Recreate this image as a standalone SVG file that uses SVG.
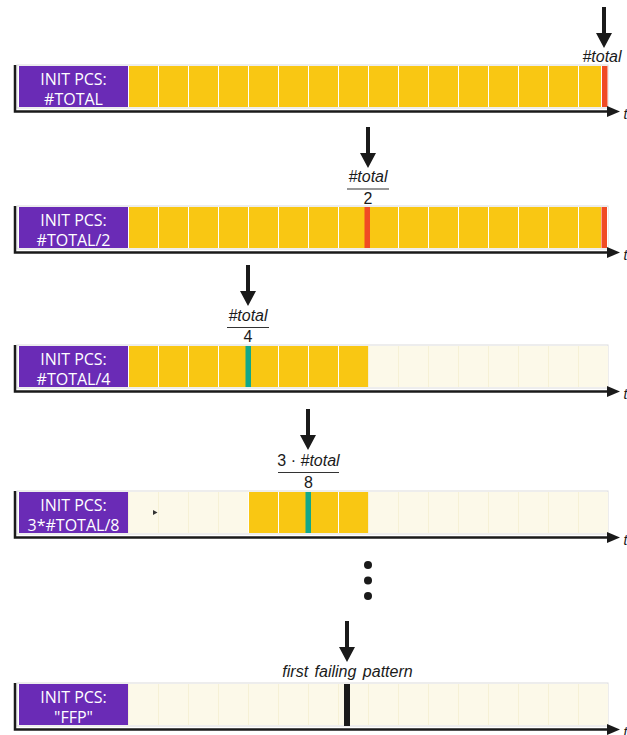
<svg xmlns="http://www.w3.org/2000/svg" width="627" height="735" viewBox="0 0 627 735">
<style>
.frame{fill:#fff;stroke:#dcdcdc;stroke-width:1}
.pcs{fill:#6a2bb6}
.pcst{font-family:"Open Sans","Noto Sans",sans-serif;font-size:16px;fill:#fff;text-anchor:middle}
.y{fill:#f9c713}
.c{fill:#fcf9e9}
.red{fill:#f04b24}
.grn{fill:#12a88a}
.blk{fill:#1a1a1a}
.ax{stroke:#1a1a1a;stroke-width:2.5;fill:none}
.axh{fill:#1a1a1a}
.lab{font-family:"Liberation Sans",Arial,sans-serif;font-size:16px;fill:#1a1a1a;text-anchor:middle}
.it{font-style:italic}
.frac{stroke:#333;stroke-width:1.2}
.arr{fill:#1a1a1a}
</style>
<defs>
<g id="cellsY">
<rect class="y" x="129" y="0" width="29" height="41"/><rect class="y" x="159" y="0" width="29" height="41"/><rect class="y" x="189" y="0" width="29" height="41"/><rect class="y" x="219" y="0" width="29" height="41"/><rect class="y" x="249" y="0" width="29" height="41"/><rect class="y" x="279" y="0" width="29" height="41"/><rect class="y" x="309" y="0" width="29" height="41"/><rect class="y" x="339" y="0" width="29" height="41"/><rect class="y" x="369" y="0" width="29" height="41"/><rect class="y" x="399" y="0" width="29" height="41"/><rect class="y" x="429" y="0" width="29" height="41"/><rect class="y" x="459" y="0" width="29" height="41"/><rect class="y" x="489" y="0" width="29" height="41"/><rect class="y" x="519" y="0" width="29" height="41"/><rect class="y" x="549" y="0" width="29" height="41"/><rect class="y" x="579" y="0" width="29" height="41"/>
</g>
<g id="cream">
<rect x="128" y="0" width="480" height="41" fill="#f6f1d6"/>
<rect class="c" x="129" y="0" width="29" height="41"/><rect class="c" x="159" y="0" width="29" height="41"/><rect class="c" x="189" y="0" width="29" height="41"/><rect class="c" x="219" y="0" width="29" height="41"/><rect class="c" x="249" y="0" width="29" height="41"/><rect class="c" x="279" y="0" width="29" height="41"/><rect class="c" x="309" y="0" width="29" height="41"/><rect class="c" x="339" y="0" width="29" height="41"/><rect class="c" x="369" y="0" width="29" height="41"/><rect class="c" x="399" y="0" width="29" height="41"/><rect class="c" x="429" y="0" width="29" height="41"/><rect class="c" x="459" y="0" width="29" height="41"/><rect class="c" x="489" y="0" width="29" height="41"/><rect class="c" x="519" y="0" width="29" height="41"/><rect class="c" x="549" y="0" width="29" height="41"/><rect class="c" x="579" y="0" width="29" height="41"/>
</g>
<g id="axis">
<path class="ax" d="M15 0 V46.5 H610"/>
<polygon class="axh" points="607,41 620,46.5 607,52"/>
<text x="623.5" y="54" font-family="Liberation Sans,Arial,sans-serif" font-style="italic" font-size="14" fill="#1a1a1a">t</text>
</g>
<path id="arrow" d="M-2 0 H2 V26 H8 L0 41 L-8 26 H-2 Z"/>
</defs>

<g id="row1" transform="translate(0,65)">
<rect class="frame" x="17" y="0" width="591" height="43"/>
<use href="#cellsY" y="1"/>
<rect x="601" y="1" width="7" height="41" fill="#fff"/>
<rect class="red" x="602" y="1" width="5.5" height="41"/>
<rect class="pcs" x="19" y="1" width="109" height="41"/>
<text class="pcst" x="73.5" y="19.5">INIT PCS:</text>
<text class="pcst" x="73.5" y="40">#TOTAL</text>
<use href="#axis"/>
</g>

<g id="row2" transform="translate(0,206)">
<rect class="frame" x="17" y="0" width="591" height="43"/>
<use href="#cellsY" y="1"/>
<rect x="601" y="1" width="7" height="41" fill="#fff"/>
<rect class="red" x="601.5" y="1" width="5.5" height="41"/>
<rect class="red" x="364.5" y="1" width="5.5" height="41"/>
<rect class="pcs" x="19" y="1" width="109" height="41"/>
<text class="pcst" x="73.5" y="19.5">INIT PCS:</text>
<text class="pcst" x="73.5" y="40">#TOTAL/2</text>
<use href="#axis"/>
</g>

<g id="row3" transform="translate(0,345)">
<rect class="frame" x="17" y="0" width="591" height="43"/>
<use href="#cream" y="1"/>
<rect x="128" y="1" width="240" height="41" fill="#fff"/>
<rect class="y" x="129" y="1" width="29" height="41"/><rect class="y" x="159" y="1" width="29" height="41"/><rect class="y" x="189" y="1" width="29" height="41"/><rect class="y" x="219" y="1" width="29" height="41"/><rect class="y" x="249" y="1" width="29" height="41"/><rect class="y" x="279" y="1" width="29" height="41"/><rect class="y" x="309" y="1" width="29" height="41"/><rect class="y" x="339" y="1" width="29" height="41"/>
<rect class="grn" x="245.5" y="1" width="5.5" height="41"/>
<rect class="pcs" x="19" y="1" width="109" height="41"/>
<text class="pcst" x="73.5" y="19.5">INIT PCS:</text>
<text class="pcst" x="73.5" y="40">#TOTAL/4</text>
<use href="#axis"/>
</g>

<g id="row4" transform="translate(0,491)">
<rect class="frame" x="17" y="0" width="591" height="43"/>
<use href="#cream" y="1"/>
<rect x="248" y="1" width="120" height="41" fill="#fff"/>
<rect class="y" x="249" y="1" width="29" height="41"/><rect class="y" x="279" y="1" width="29" height="41"/><rect class="y" x="309" y="1" width="29" height="41"/><rect class="y" x="339" y="1" width="29" height="41"/>
<rect class="grn" x="305.5" y="1" width="5.5" height="41"/>
<polygon points="153,19 157.5,21.5 153,24" fill="#333"/>
<rect class="pcs" x="19" y="1" width="109" height="41"/>
<text class="pcst" x="73.5" y="19.5">INIT PCS:</text>
<text class="pcst" x="73.5" y="40">3*#TOTAL/8</text>
<use href="#axis"/>
</g>

<g id="row5" transform="translate(0,683)">
<rect class="frame" x="17" y="0" width="591" height="43"/>
<use href="#cream" y="1"/>
<rect class="blk" x="344" y="1" width="6" height="42"/>
<rect class="pcs" x="19" y="1" width="109" height="41"/>
<text class="pcst" x="73.5" y="19.5">INIT PCS:</text>
<text class="pcst" x="73.5" y="40">"FFP"</text>
<use href="#axis"/>
</g>

<g id="connectors">
<use href="#arrow" class="arr" x="604" y="7"/>
<use href="#arrow" class="arr" x="368" y="127"/>
<use href="#arrow" class="arr" x="248" y="265"/>
<use href="#arrow" class="arr" x="308" y="409"/>
<use href="#arrow" class="arr" x="347" y="621"/>
</g>

<g id="labels">
<text class="lab it" x="602" y="62">#total</text>
<text class="lab it" x="368" y="182">#total</text>
<line class="frac" x1="347" y1="189" x2="389" y2="189"/>
<text class="lab" x="368" y="203.5">2</text>
<text class="lab it" x="248" y="321">#total</text>
<line class="frac" x1="227" y1="327.5" x2="269" y2="327.5"/>
<text class="lab" x="248" y="342">4</text>
<text class="lab" x="308.5" y="466">3 · <tspan font-style="italic">#total</tspan></text>
<line class="frac" x1="278" y1="472.5" x2="339" y2="472.5"/>
<text class="lab" x="308.5" y="487.5">8</text>
<text class="lab it" x="347.5" y="677" word-spacing="2">first failing pattern</text>
</g>

<g id="ellipsis">
<circle cx="368" cy="565" r="4" fill="#1a1a1a"/>
<circle cx="368" cy="580.5" r="4" fill="#1a1a1a"/>
<circle cx="368" cy="596" r="4" fill="#1a1a1a"/>
</g>
</svg>
